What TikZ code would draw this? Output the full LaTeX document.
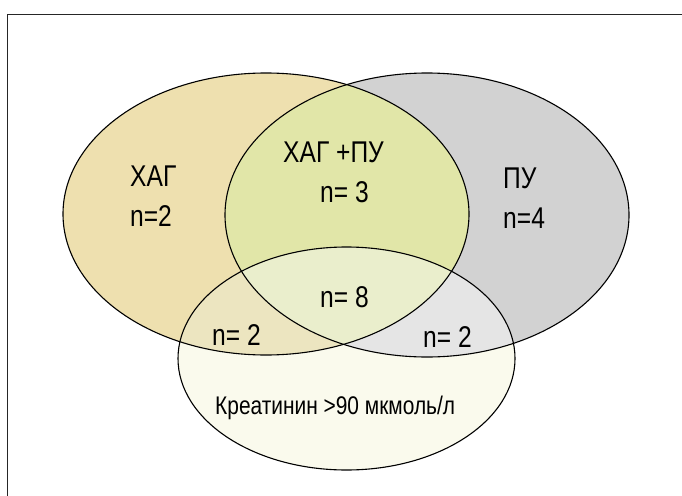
\documentclass[tikz,border=0pt]{standalone}
\usepackage{fontspec}
\setmainfont{Liberation Sans}[FakeStretch=0.82]
\definecolor{ctan}{RGB}{238,224,175}
\definecolor{cgray}{RGB}{210,210,210}
\definecolor{cgreen}{RGB}{225,230,168}
\definecolor{ctriple}{RGB}{234,238,204}
\definecolor{clb}{RGB}{236,229,192}
\definecolor{crb}{RGB}{229,229,229}
\definecolor{cbot}{RGB}{250,250,237}
\begin{document}
\begin{tikzpicture}[x=1pt,y=-1pt,
  big/.style={inner sep=0pt, anchor=base west, font=\fontsize{30}{34}\selectfont},
  small/.style={inner sep=0pt, anchor=base west, font=\fontsize{25.5}{29}\selectfont},
  outline/.style={draw=black, line width=1.1pt}]
\useasboundingbox (0,0) rectangle (682,495);
\clip (0,0) rectangle (682,495);
\def\Lell{(266,214) ellipse [x radius=203pt, y radius=141pt]}
\def\Rell{(427,215) ellipse [x radius=202pt, y radius=142pt]}
\def\Bell{(346.5,358.5) ellipse [x radius=168.5pt, y radius=111.5pt]}
% frame
\draw[line width=1.5pt, draw=black!85] (7.5,14.5) rectangle (720,530);
% regions
\fill[ctan] \Lell;
\fill[cgray] \Rell;
\begin{scope}\clip \Lell; \fill[cgreen] \Rell; \end{scope}
\fill[cbot] \Bell;
\begin{scope}\clip \Bell; \fill[clb] \Lell; \end{scope}
\begin{scope}\clip \Bell; \fill[crb] \Rell; \end{scope}
\begin{scope}\clip \Bell; \clip \Lell; \fill[ctriple] \Rell; \end{scope}
% outlines
\draw[outline] \Lell;
\draw[outline] \Rell;
\draw[outline] \Bell;
% labels
\node[big] (hag) at (130,186) {ХАГ};
\node[big] (hagn) at (130,226) {n=2};
\node[big] (hp) at (283,162) {ХАГ +ПУ};
\node[big] (hpn) at (320,202) {n= 3};
\node[big] (pu) at (503,188) {ПУ};
\node[big] (pun) at (503,228) {n=4};
\node[big] (all) at (320,307) {n= 8};
\node[big] (lb) at (212,345) {n= 2};
\node[big] (rb) at (423,347) {n= 2};
\node[small] (kr) at (215,414) {Креатинин >90 мкмоль/л};
\end{tikzpicture}
\end{document}
